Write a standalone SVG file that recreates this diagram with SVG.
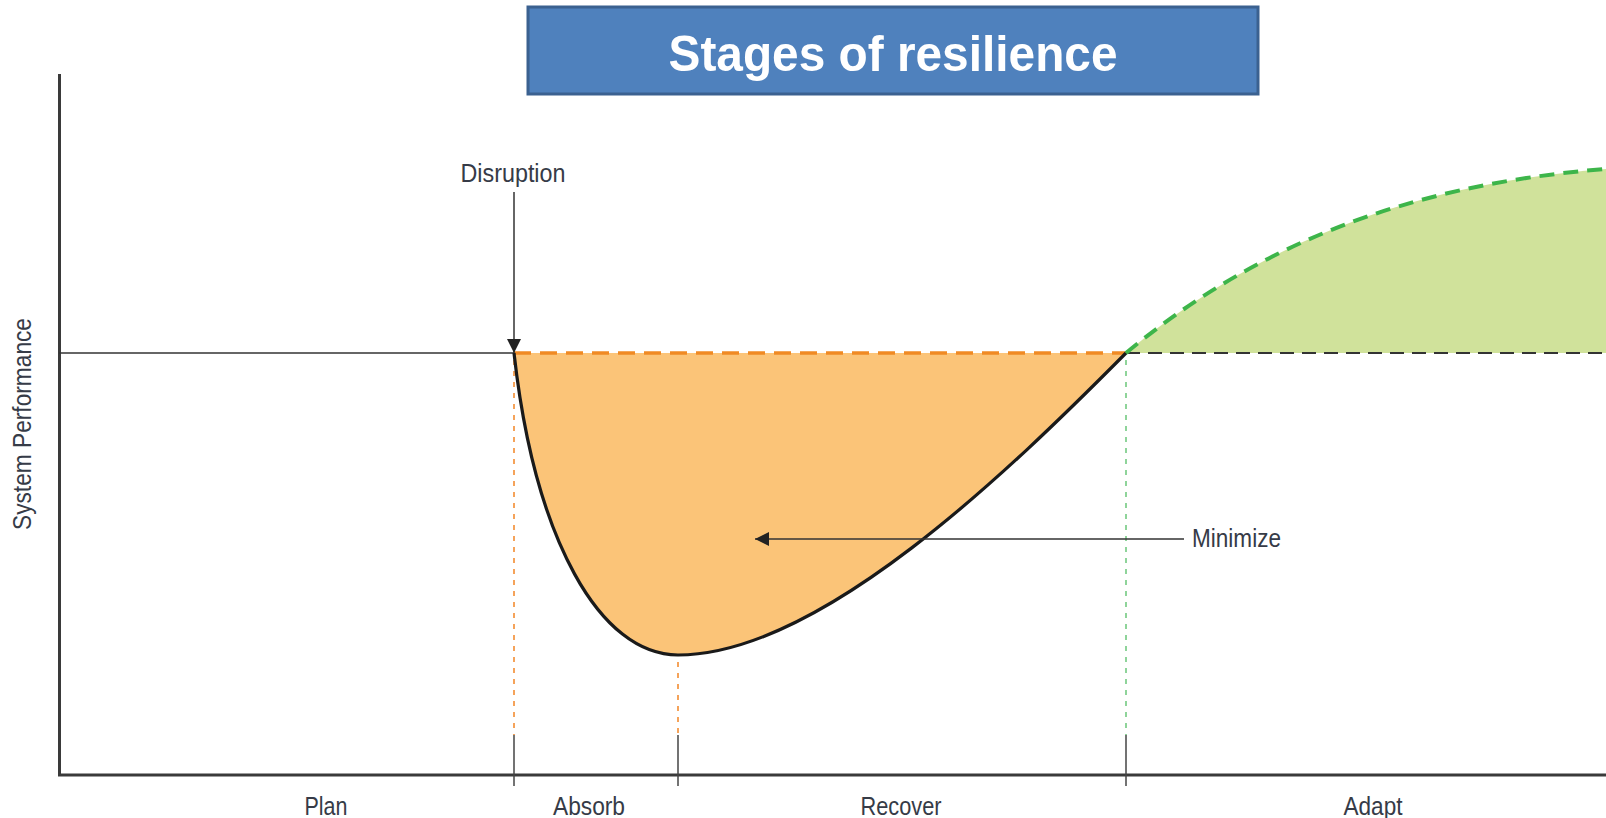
<svg xmlns="http://www.w3.org/2000/svg" width="1606" height="818" viewBox="0 0 1606 818">
  <style>
    .lbl { font-family: "Liberation Sans Narrow", "Liberation Sans", Arial, sans-serif; font-size: 25px; fill: #363b47; }
    .axis { stroke: #3a3a3a; stroke-width: 3; fill: none; }
    .tick { stroke: #444; stroke-width: 1.5; }
    .guide { stroke-width: 2; stroke-dasharray: 5 6; fill: none; }
  </style>
  <defs>
    <marker id="tri" viewBox="0 0 10 10" refX="10" refY="5" markerWidth="14" markerHeight="14" markerUnits="userSpaceOnUse" orient="auto">
      <path d="M0,0 L10,5 L0,10 Z" fill="#222"/>
    </marker>
  </defs>

  <rect width="1606" height="818" fill="#ffffff"/>

  <!-- title banner -->
  <g id="title">
    <rect x="528" y="7" width="730" height="87" fill="#4f81bd" stroke="#3b6190" stroke-width="3"/>
    <text x="893" y="71" text-anchor="middle" font-family="Liberation Sans, Arial, sans-serif" font-weight="bold" font-size="50" fill="#ffffff" textLength="449" lengthAdjust="spacingAndGlyphs">Stages of resilience</text>
  </g>

  <!-- performance regions -->
  <g id="loss-area">
    <path d="M514,353 C535,540 600,655 678,655 C820,655 1010,470 1126,353 Z" fill="#fbc478"/>
  </g>
  <g id="gain-area">
    <path d="M1126,353 C1250,250 1400,185 1606,169 L1606,353 Z" fill="#d0e29b"/>
  </g>

  <!-- axes -->
  <g id="axes">
    <path class="axis" d="M59.5,74 L59.5,775 L1606,775"/>
    <text class="lbl" transform="translate(31,424) rotate(-90)" text-anchor="middle" textLength="212" lengthAdjust="spacingAndGlyphs">System Performance</text>
  </g>

  <!-- stage boundaries -->
  <g id="guides">
    <line class="guide" x1="514" y1="360" x2="514" y2="735" stroke="#f5a35a"/>
    <line class="guide" x1="678" y1="662" x2="678" y2="735" stroke="#f5a35a"/>
    <line class="guide" x1="1126" y1="360" x2="1126" y2="735" stroke="#8fd49a"/>
    <line class="tick" x1="514" y1="735" x2="514" y2="786"/>
    <line class="tick" x1="678" y1="735" x2="678" y2="786"/>
    <line class="tick" x1="1126" y1="735" x2="1126" y2="786"/>
  </g>

  <!-- connectors -->
  <g id="connectors">
    <line x1="59" y1="353" x2="514" y2="353" stroke="#333" stroke-width="1.5"/>
    <line x1="514" y1="353" x2="1126" y2="353" stroke="#f08a24" stroke-width="3.5" stroke-dasharray="17 9"/>
    <line x1="1126" y1="353" x2="1606" y2="353" stroke="#333" stroke-width="2" stroke-dasharray="14 8"/>
    <path d="M514,353 C535,540 600,655 678,655 C820,655 1010,470 1126,353" fill="none" stroke="#1a1a1a" stroke-width="3.2"/>
    <path d="M1126,353 C1250,250 1400,185 1606,169" fill="none" stroke="#3db54a" stroke-width="4" stroke-dasharray="15 9"/>
    <line x1="514" y1="192" x2="514" y2="353" stroke="#333" stroke-width="1.5" marker-end="url(#tri)"/>
    <line x1="1184" y1="539" x2="755" y2="539" stroke="#333" stroke-width="1.5" marker-end="url(#tri)"/>
  </g>

  <!-- annotations -->
  <g id="disruption">
    <text class="lbl" x="513" y="182" text-anchor="middle" textLength="105" lengthAdjust="spacingAndGlyphs">Disruption</text>
  </g>
  <g id="minimize">
    <text class="lbl" x="1192" y="547" textLength="89" lengthAdjust="spacingAndGlyphs">Minimize</text>
  </g>

  <!-- stage names -->
  <g id="stage-plan"><text class="lbl" x="326" y="815" text-anchor="middle" textLength="43" lengthAdjust="spacingAndGlyphs">Plan</text></g>
  <g id="stage-absorb"><text class="lbl" x="589" y="815" text-anchor="middle" textLength="72" lengthAdjust="spacingAndGlyphs">Absorb</text></g>
  <g id="stage-recover"><text class="lbl" x="901" y="815" text-anchor="middle" textLength="81" lengthAdjust="spacingAndGlyphs">Recover</text></g>
  <g id="stage-adapt"><text class="lbl" x="1373" y="815" text-anchor="middle" textLength="59" lengthAdjust="spacingAndGlyphs">Adapt</text></g>
</svg>
